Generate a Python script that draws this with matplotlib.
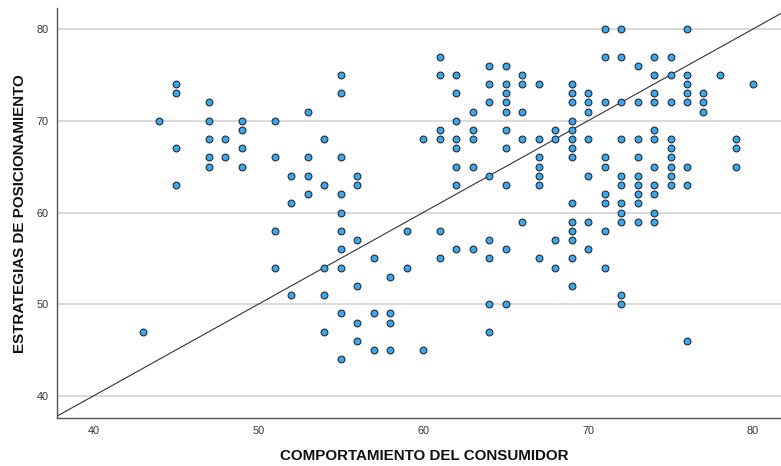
import matplotlib.pyplot as plt

# comportamiento del consumidor (x) / estrategias de posicionamiento (y)
comp = [43, 44, 45,45,45,45, 47,47,47,47,47, 48,48, 49,49,49,49, 51,51,51,51, 52,52,52, 53,53,53,53,
        54,54,54,54,54, 55,55,55,55,55,55,55,55,55,55, 56,56,56,56,56,56, 57,57,57, 58,58,58,58, 59,59, 60,60,
        61,61,61,61,61,61, 62,62,62,62,62,62,62,62, 63,63,63,63,63, 64,64,64,64,64,64,64,64,
        65,65,65,65,65,65,65,65,65,65, 66,66,66,66,66, 67,67,67,67,67,67,67, 68,68,68,68,
        69,69,69,69,69,69,69,69,69,69,69,69,69,69, 70,70,70,70,70,70,70, 71,71,71,71,71,71,71,71,71,
        72,72,72,72,72,72,72,72,72,72,72, 73,73,73,73,73,73,73,73,73, 74,74,74,74,74,74,74,74,74,74,74,
        75,75,75,75,75,75,75,75,75, 76,76,76,76,76,76,76,76, 77,77,77, 78, 79,79,79, 80]
estr = [47, 70, 74,73,67,63, 72,70,68,66,65, 68,66, 70,69,67,65, 70,66,58,54, 64,61,51, 71,66,64,62,
        68,63,54,51,47, 75,73,66,62,60,58,56,54,49,44, 64,63,57,52,48,46, 55,49,45, 53,49,48,45, 58,54, 68,45,
        77,75,69,68,58,55, 75,73,70,68,67,65,63,56, 71,69,68,65,56, 76,74,72,64,57,55,50,47,
        76,74,73,72,71,69,67,63,56,50, 75,74,71,68,59, 74,68,66,65,64,63,55, 69,68,57,54,
        74,73,72,70,69,68,67,66,61,59,58,57,55,52, 73,72,71,68,64,59,56, 80,77,72,66,65,62,61,58,54,
        80,77,72,68,64,63,61,60,59,51,50, 76,72,68,66,64,63,62,61,59, 77,75,73,72,69,68,65,63,62,60,59,
        77,75,72,68,67,66,65,64,63, 80,75,74,73,72,65,63,46, 73,72,71, 75, 68,67,65, 74]
xt = [40, 50, 60, 70, 80]
yt = [40, 50, 60, 70, 80]

plt.rcParams['font.family'] = ['Liberation Sans', 'DejaVu Sans']
fig = plt.figure(figsize=(7.81, 4.66), dpi=100, facecolor='w')
ax = fig.add_axes([0.073, 0.103, 0.927, 0.879])

ax.set_xlim(37.8, 81.7); ax.set_ylim(37.6, 82.25)
ax.set_xticks(xt); ax.set_yticks(yt)
ax.tick_params(length=0, labelsize=7.8, labelcolor='#333333', pad=6)
ax.grid(axis='y', color='#d4d4d4', linewidth=1.2, zorder=0)
for s in ['top', 'right']: ax.spines[s].set_visible(False)
for s in ['left', 'bottom']: ax.spines[s].set_color('#555555'); ax.spines[s].set_linewidth(1)

# linea de referencia y = x
ax.axline((40, 40), slope=1, color='#333333', linewidth=0.8, zorder=2)
ax.scatter(comp, estr, s=24, color='#33aaf5', edgecolor='#2b2b2b', linewidth=0.8, zorder=3)

ax.set_xlabel('COMPORTAMIENTO DEL CONSUMIDOR', fontsize=10.9, weight='bold', color='#111111', labelpad=9)
ax.xaxis.label.set_x(0.507)
ax.set_ylabel('ESTRATEGIAS DE POSICIONAMIENTO', fontsize=10.9, weight='bold', color='#111111', labelpad=7)

fig.savefig('out.png', dpi=100)
